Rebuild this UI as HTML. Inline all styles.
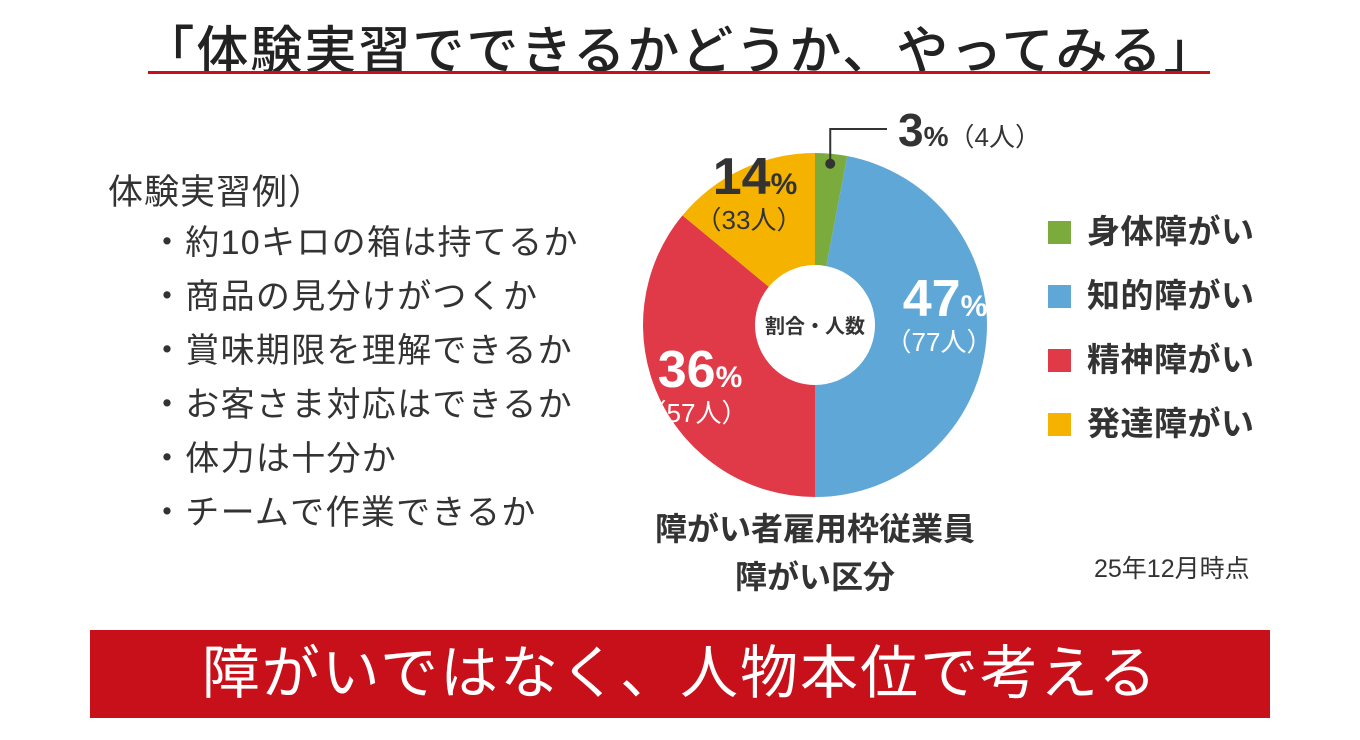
<!DOCTYPE html>
<html><head><meta charset="utf-8">
<style>
body{margin:0;width:1360px;height:740px;background:#fff;overflow:hidden;font-family:"Liberation Sans","Noto Sans CJK JP",sans-serif;color:#333;position:relative}
.a{position:absolute;white-space:nowrap}
</style></head><body>
<div class="a" style="left:0;width:1360px;text-align:center;top:9px;font-size:52px;font-weight:500;color:#222;letter-spacing:2px">「体験実習でできるかどうか、やってみる」</div>
<div class="a" style="left:148px;top:71px;width:1062px;height:3px;background:#c8101a"></div>
<div class="a" style="left:108px;top:164px;font-size:35px;color:#333;letter-spacing:1px">体験実習例）</div>
<div style="position:absolute;left:150px;top:216px;font-size:34px;line-height:54px;color:#333;letter-spacing:1.3px">
<div>・約10キロの箱は持てるか</div>
<div>・商品の見分けがつくか</div>
<div>・賞味期限を理解できるか</div>
<div>・お客さま対応はできるか</div>
<div>・体力は十分か</div>
<div>・チームで作業できるか</div>
</div>
<svg id="chart" width="1360" height="740" style="position:absolute;left:0;top:0"></svg>
<div class="a" style="left:1048px;top:200px;font-size:33px;font-weight:bold;color:#333;line-height:64px;letter-spacing:0.5px">
<div><span style="display:inline-block;width:23px;height:23px;background:#7aab3c;margin-right:16px;vertical-align:-1px"></span>身体障がい</div>
<div><span style="display:inline-block;width:23px;height:23px;background:#5ea7d6;margin-right:16px;vertical-align:-1px"></span>知的障がい</div>
<div><span style="display:inline-block;width:23px;height:23px;background:#e03a48;margin-right:16px;vertical-align:-1px"></span>精神障がい</div>
<div><span style="display:inline-block;width:23px;height:23px;background:#f5b300;margin-right:16px;vertical-align:-1px"></span>発達障がい</div>
</div>
<div class="a" style="left:570px;width:490px;text-align:center;top:505px;font-size:32px;font-weight:bold;line-height:48px;color:#333">障がい者雇用枠従業員<br>障がい区分</div>
<div class="a" style="left:1094px;top:549px;font-size:25px;color:#333">25年12月時点</div>
<div class="a" style="left:90px;top:630px;width:1180px;height:88px;background:#c8101a;color:#fff;font-size:58px;text-align:center;line-height:88px;letter-spacing:2px">障がいではなく、人物本位で考える</div>
<script>
const categories=["身体障がい","知的障がい","精神障がい","発達障がい"];
const percents=[3,47,36,14];
const counts=[4,77,57,33];
const colors=["#7aab3c","#5ea7d6","#e03a48","#f5b300"];
const svg=document.getElementById('chart');const NS="http://www.w3.org/2000/svg";
const cx=815,cy=325,R=172,r=60;
const total=percents.reduce((a,b)=>a+b,0);
function pt(a,rad){return [cx+rad*Math.sin(a),cy-rad*Math.cos(a)];}
let acc=0;const mids=[];
percents.forEach((v,i)=>{
 const a0=acc/total*2*Math.PI;acc+=v;const a1=acc/total*2*Math.PI;
 mids.push((a0+a1)/2);
 const [x0,y0]=pt(a0,R),[x1,y1]=pt(a1,R),[x2,y2]=pt(a1,r),[x3,y3]=pt(a0,r);
 const lg=(a1-a0)>Math.PI?1:0;
 const p=document.createElementNS(NS,'path');
 p.setAttribute('d',`M${x0},${y0}A${R},${R} 0 ${lg} 1 ${x1},${y1}L${x2},${y2}A${r},${r} 0 ${lg} 0 ${x3},${y3}Z`);
 p.setAttribute('fill',colors[i]);
 
 
 svg.appendChild(p);
});
function txt(x,y,s,size,fill,w,anchor){const t=document.createElementNS(NS,'text');t.setAttribute('x',x);t.setAttribute('y',y);t.setAttribute('font-size',size);t.setAttribute('fill',fill);t.setAttribute('font-weight',w);t.setAttribute('text-anchor',anchor||'middle');t.setAttribute('font-family','"Liberation Sans","Noto Sans CJK JP",sans-serif');t.innerHTML=s;svg.appendChild(t);return t;}
let c=txt(cx,cy+8,"割合・人数",20,"#333","bold");


const [lx,ly]=pt(mids[0],R-10);
const ln=document.createElementNS(NS,'polyline');
ln.setAttribute('points',`${lx},${ly} ${lx},129 887,129`);
ln.setAttribute('fill','none');ln.setAttribute('stroke','#333');ln.setAttribute('stroke-width','2');


svg.appendChild(ln);
const dot=document.createElementNS(NS,'circle');dot.setAttribute('cx',lx);dot.setAttribute('cy',ly);dot.setAttribute('r',5);dot.setAttribute('fill','#333');


svg.appendChild(dot);
let t0=txt(898,146,`<tspan font-size="46">${percents[0]}</tspan><tspan font-size="28">%</tspan><tspan font-size="26" font-weight="normal">（${counts[0]}人）</tspan>`,46,"#333","bold","start");


const lpos=[null,[945,316,"#fff"],[700,387,"#fff"],[755,194,"#333"]];
for(let i=1;i<4;i++){const [x,y,f]=lpos[i];
 let a=txt(x,y,`<tspan font-size="52">${percents[i]}</tspan><tspan font-size="30">%</tspan>`,52,f,"bold");
 
 
 let b=txt(x-6,y+35,`（${counts[i]}人）`,26,f,"normal");
 
 
}
</script>
</body></html>
